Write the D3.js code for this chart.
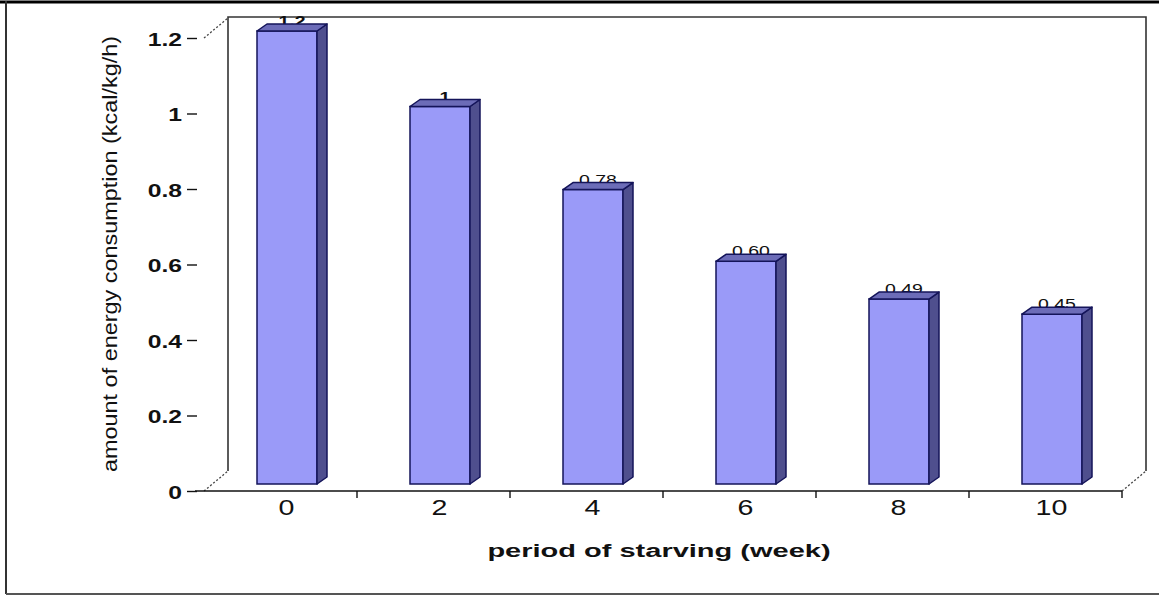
<!DOCTYPE html>
<html>
<head>
<meta charset="utf-8">
<script src="https://cdn.jsdelivr.net/npm/d3@7"></script>
<style>
  html, body { margin: 0; padding: 0; background: #ffffff; }
  svg { display: block; }
</style>
</head>
<body>
<svg id="chart" width="1159" height="596"></svg>
<script>
// ---- data ----
const categories = ["0", "2", "4", "6", "8", "10"];
const values = [1.2, 1.0, 0.78, 0.59, 0.49, 0.45];
const valueLabels = ["1.2", "1", "0.78", "0.60", "0.49", "0.45"];
const yTicks = [0, 0.2, 0.4, 0.6, 0.8, 1.0, 1.2];
const yTickLabels = ["0", "0.2", "0.4", "0.6", "0.8", "1", "1.2"];
const xTitle = "period of starving (week)";
const yTitle = "amount of energy consumption (kcal/kg/h)";

// ---- layout ----
const svg = d3.select("#chart");
const font = "Arial, 'Liberation Sans', sans-serif";
const SX = 1.3;            // horizontal stretch seen in the picture
const depth = {dx: 24, dy: -20};   // depth of the 3D box
const barOff = {dx: 6.5, dy: -7};  // front face of bars relative to front plane
const barDepth = {dx: 10, dy: -7};

const x = d3.scaleBand().domain(categories).range([204, 1122]).paddingInner(0).paddingOuter(0);
const y = d3.scaleLinear().domain([0, 1.2]).range([491, 38]);

// outer frame
svg.append("line").attr("x1", 0).attr("x2", 1159).attr("y1", 2).attr("y2", 2)
  .attr("stroke", "#000").attr("stroke-width", 3);
svg.append("line").attr("x1", 6).attr("x2", 6).attr("y1", 1).attr("y2", 594)
  .attr("stroke", "#333").attr("stroke-width", 2);
svg.append("line").attr("x1", 6).attr("x2", 1159).attr("y1", 594).attr("y2", 594)
  .attr("stroke", "#555").attr("stroke-width", 2);

// back wall
const [x0r, x1r] = x.range();
const wall = svg.append("g").attr("fill", "none").attr("stroke", "#333").attr("stroke-width", 1.6);
wall.append("path").attr("d",
  `M${x0r + depth.dx},${y(0) + depth.dy}V${y(1.2) + depth.dy - 1}H${x1r + depth.dx}V${y(0) + depth.dy}`);
// dotted depth edges
const dots = svg.append("g").attr("stroke", "#444").attr("stroke-width", 1.3).attr("stroke-dasharray", "2,2");
[[x0r, y(1.2)], [x0r, y(0)], [x1r, y(0)]].forEach(([px, py]) => {
  dots.append("line").attr("x1", px).attr("y1", py).attr("x2", px + depth.dx).attr("y2", py + depth.dy);
});

// front axis line and ticks at band boundaries
svg.append("line").attr("x1", 195).attr("x2", x1r).attr("y1", y(0)).attr("y2", y(0))
  .attr("stroke", "#111").attr("stroke-width", 1.6);
svg.append("g").selectAll("line").data(categories).join("line")
  .attr("x1", d => x(d) + x.bandwidth()).attr("x2", d => x(d) + x.bandwidth())
  .attr("y1", y(0)).attr("y2", y(0) + 7)
  .attr("stroke", "#111").attr("stroke-width", 1.4);

// y axis (ticks + labels, no domain line)
const yAxis = d3.axisLeft(y).tickValues(yTicks).tickSize(10)
  .tickFormat((d, i) => yTickLabels[i]);
const gy = svg.append("g").attr("transform", "translate(197,0)").call(yAxis);
gy.select(".domain").remove();
gy.selectAll(".tick line").attr("stroke", "#111").attr("stroke-width", 1.4);
gy.selectAll(".tick text")
  .attr("x", null).attr("dy", null)
  .attr("transform", `translate(-15,7) scale(${SX},1)`)
  .attr("font-family", font).attr("font-size", 19).attr("font-weight", "bold")
  .attr("fill", "#111").attr("text-anchor", "end");

// x axis labels
const xAxis = d3.axisBottom(x).tickSize(0).tickPadding(0);
const gx = svg.append("g").attr("transform", `translate(0,${y(0)})`).call(xAxis);
gx.select(".domain").remove();
gx.selectAll(".tick text")
  .attr("y", null).attr("dy", null)
  .attr("transform", `translate(6,24) scale(${SX},1)`)
  .attr("font-family", font).attr("font-size", 22).attr("fill", "#111")
  .attr("text-anchor", "middle");

// value labels (drawn before bars so the top faces overlap them)
const w = 60;
const barX = d => x(d) + x.bandwidth() / 2 + barOff.dx - w / 2;
svg.append("g").selectAll("text").data(categories).join("text")
  .attr("transform", (d, i) =>
    `translate(${barX(d) + w / 2 + barDepth.dx / 2},${y(values[i]) + barOff.dy - 5}) scale(${SX},1)`)
  .attr("text-anchor", "middle")
  .attr("font-family", font).attr("font-size", 15)
  .attr("font-weight", (d, i) => i < 2 ? "bold" : "normal")
  .attr("fill", "#111")
  .text((d, i) => valueLabels[i]);

// bars
const bars = svg.append("g").selectAll("g").data(categories).join("g");
const stroke = "#14145a";
bars.each(function (d, i) {
  const g = d3.select(this);
  const xl = barX(d), xr = xl + w;
  const top = y(values[i]) + barOff.dy, bot = y(0) + barOff.dy;
  const ddx = barDepth.dx, ddy = barDepth.dy;
  g.append("rect").attr("x", xl).attr("y", top).attr("width", w).attr("height", bot - top)
    .attr("fill", "#9a9af8").attr("stroke", stroke).attr("stroke-width", 1.5);
  g.append("path").attr("d", `M${xr},${top}L${xr + ddx},${top + ddy}L${xr + ddx},${bot + ddy}L${xr},${bot}Z`)
    .attr("fill", "#4f4f8e").attr("stroke", stroke).attr("stroke-width", 1.5).attr("stroke-linejoin", "round");
  g.append("path").attr("d", `M${xl},${top}L${xl + ddx},${top + ddy}L${xr + ddx},${top + ddy}L${xr},${top}Z`)
    .attr("fill", "#6c6cb8").attr("stroke", stroke).attr("stroke-width", 1.5).attr("stroke-linejoin", "round");
});

// axis titles
svg.append("text")
  .attr("transform", `translate(659,557) scale(${SX},1)`)
  .attr("text-anchor", "middle")
  .attr("font-family", font).attr("font-size", 19).attr("font-weight", "bold").attr("fill", "#111")
  .attr("textLength", 264).attr("lengthAdjust", "spacingAndGlyphs")
  .text(xTitle);

svg.append("text")
  .attr("transform", `translate(117,254) scale(${SX},1) rotate(-90)`)
  .attr("text-anchor", "middle")
  .attr("font-family", font).attr("font-size", 16).attr("fill", "#111")
  .attr("textLength", 436).attr("lengthAdjust", "spacingAndGlyphs")
  .text(yTitle);
</script>
</body>
</html>
